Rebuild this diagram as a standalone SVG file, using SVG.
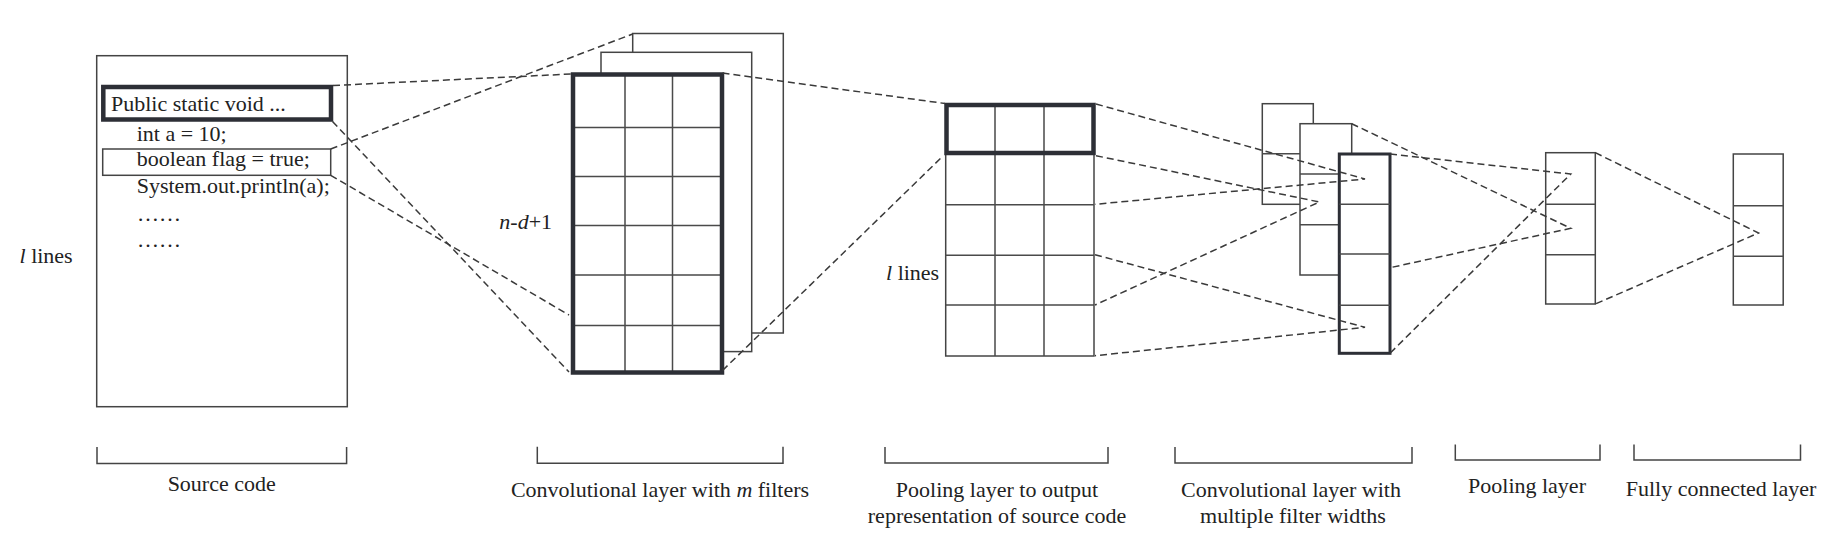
<svg xmlns="http://www.w3.org/2000/svg" width="1830" height="539" viewBox="0 0 1830 539">
<style>
  text { font-family: "Liberation Serif", "Times New Roman", serif; font-size: 22px; fill: #222; }
  .it { font-style: italic; }
  .mid { text-anchor: middle; }
  .box { fill: #fff; stroke: #444; stroke-width: 1.5; }
  .thick { fill: none; stroke: #2d2f36; stroke-width: 4.5; }
  .thick3 { fill: #fff; stroke: #2d2f36; stroke-width: 3; }
  .grid { fill: none; stroke: #4a4a4a; stroke-width: 1.5; }
  .dash { fill: none; stroke: #3a3a3a; stroke-width: 1.5; stroke-dasharray: 7 4; }
  .brk { fill: none; stroke: #444; stroke-width: 1.5; }
</style>
<rect width="1830" height="539" fill="#fff"/>

<g id="source-code">
  <rect class="box" x="96.7" y="55.7" width="250.6" height="351"/>
  <rect class="thick" x="103.3" y="87" width="227.7" height="32.5" stroke-width="5"/>
  <rect class="box" x="102.7" y="149" width="228" height="26.3"/>
  <text x="111" y="110.7">Public static void ...</text>
  <text x="136.7" y="140.7">int a = 10;</text>
  <text x="136.7" y="166">boolean flag = true;</text>
  <text x="136.7" y="193.3">System.out.println(a);</text>
  <text x="137" y="220.7">……</text>
  <text x="137" y="246.7">……</text>
  <text x="19.5" y="263"><tspan class="it">l</tspan> lines</text>
</g>

<g id="conv-layer">
  <rect class="box" x="632.7" y="33.5" width="150.6" height="299.5"/>
  <rect class="box" x="601" y="52.3" width="150.7" height="299.3"/>
  <rect fill="#fff" stroke="none" x="573" y="74.5" width="149" height="298"/>
  <path class="grid" d="M573 127.5H722M573 176.5H722M573 225.5H722M573 275H722M573 325.5H722M625 74.5V372.5M672.5 74.5V372.5"/>
  <rect class="thick" x="573" y="74.5" width="149" height="298"/>
  <text x="499.3" y="229.3"><tspan class="it">n</tspan>-<tspan class="it">d</tspan>+1</text>
</g>

<g id="pooling-output">
  <rect class="box" x="945.7" y="153" width="148.3" height="203"/>
  <path class="grid" d="M945.7 204.7H1094M945.7 255.2H1094M945.7 305H1094M995 105V356M1044 105V356"/>
  <rect class="thick" x="946.5" y="105" width="147" height="48" stroke-width="4"/>
  <text x="886" y="280"><tspan class="it">l</tspan> lines</text>
</g>

<g id="multi-width-conv">
  <rect class="box" x="1262.3" y="103.7" width="51" height="100.6"/>
  <path class="grid" d="M1262.3 153.7H1313.3"/>
  <rect class="box" x="1300" y="123.7" width="51.7" height="151.3"/>
  <path class="grid" d="M1300 174H1351.7M1300 224.7H1351.7"/>
  <rect class="thick3" x="1339.3" y="154" width="50.7" height="199.3"/>
  <path class="grid" d="M1339.3 204.3H1390M1339.3 254H1390M1339.3 305.3H1390"/>
</g>

<g id="pooling-layer">
  <rect class="box" x="1545.7" y="152.7" width="49.6" height="151.3"/>
  <path class="grid" d="M1545.7 204.3H1595.3M1545.7 254.7H1595.3"/>
</g>

<g id="fully-connected">
  <rect class="box" x="1733.3" y="154" width="49.9" height="151"/>
  <path class="grid" d="M1733.3 205.7H1783.2M1733.3 256.3H1783.2"/>
</g>

<g id="connectors">
  <path class="dash" d="M333 85.5L571 74"/>
  <path class="dash" d="M332.5 121.5L569 372"/>
  <path class="dash" d="M330.7 149L632.7 34"/>
  <path class="dash" d="M330.7 175.3L569 315"/>
  <path class="dash" d="M722.5 73L945 103.5"/>
  <path class="dash" d="M722.5 370.5L943 156"/>
  <path class="dash" d="M1096 104L1365 179L1095 204.3"/>
  <path class="dash" d="M1096 155.7L1319.3 202L1095 305"/>
  <path class="dash" d="M1095 254.7L1365 327.3L1095 355.7"/>
  <path class="dash" d="M1390 154L1570.7 174L1390 353.3"/>
  <path class="dash" d="M1351.7 123.7L1570.7 228.3L1390 267.7"/>
  <path class="dash" d="M1595.3 152.7L1758.5 233L1595.3 304"/>
</g>

<g id="labels">
  <path class="brk" d="M97 447V463.4H346.6V447"/>
  <text class="mid" x="221.7" y="491">Source code</text>
  <path class="brk" d="M537.3 446.7V463.3H783V446.7"/>
  <text class="mid" x="660" y="496.7">Convolutional layer with <tspan class="it">m</tspan> filters</text>
  <path class="brk" d="M885 447V463H1108V447"/>
  <text class="mid" x="997" y="497">Pooling layer to output</text>
  <text class="mid" x="997" y="523">representation of source code</text>
  <path class="brk" d="M1175 447V463H1412V447"/>
  <text class="mid" x="1291" y="497">Convolutional layer with</text>
  <text class="mid" x="1293" y="523">multiple filter widths</text>
  <path class="brk" d="M1455.3 444.5V460H1600V444.5"/>
  <text class="mid" x="1527" y="492.6">Pooling layer</text>
  <path class="brk" d="M1634 444.5V460H1800.5V444.5"/>
  <text class="mid" x="1721" y="496">Fully connected layer</text>
</g>
</svg>
